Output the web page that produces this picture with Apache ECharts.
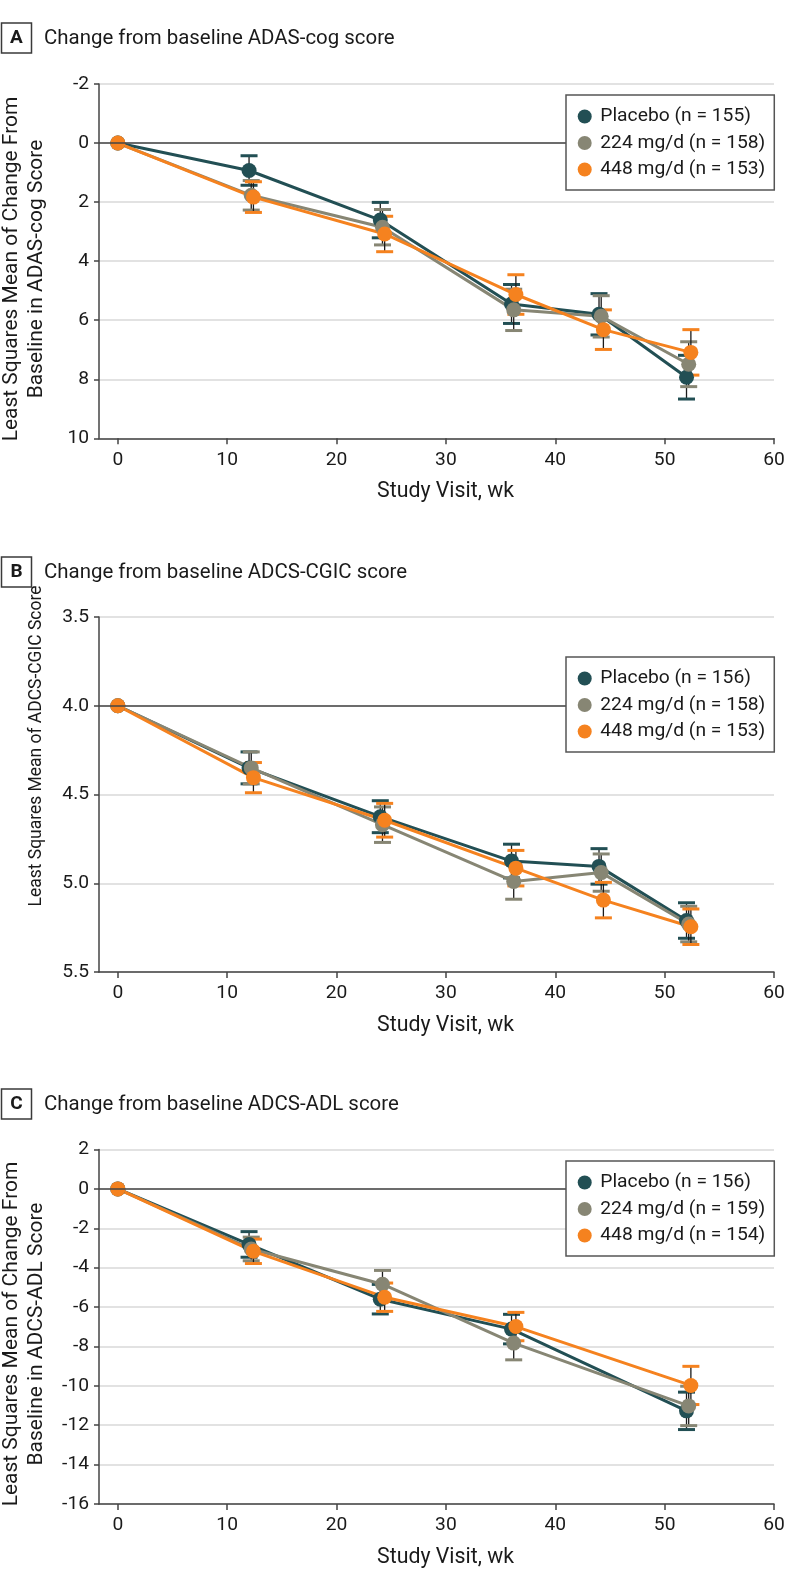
<!DOCTYPE html>
<html>
<head>
<meta charset="utf-8">
<script src="https://cdn.jsdelivr.net/npm/echarts@6/dist/echarts.min.js"></script>
<style>
  html, body { margin: 0; padding: 0; background: #fff; }
  #chart { width: 794px; height: 1595px; }
</style>
</head>
<body>
<div id="chart"></div>
<script>
// ---------------- DATA ----------------
const weeksAB = [0, 12, 24, 36, 44, 52];
const weeksC = [0, 12, 24, 36, 52];
const xTickValues = [0, 10, 20, 30, 40, 50, 60];

const panelLetters = ['A', 'B', 'C'];
const panelTitles = [
  'Change from baseline ADAS-cog score',
  'Change from baseline ADCS-CGIC score',
  'Change from baseline ADCS-ADL score'
];
const yNameLinesA = ['Least Squares Mean of Change From', 'Baseline in ADAS-cog Score'];
const yNameLinesB = ['Least Squares Mean of ADCS-CGIC Score'];
const yNameLinesC = ['Least Squares Mean of Change From', 'Baseline in ADCS-ADL Score'];
const xAxisName = 'Study Visit, wk';

const namesA = ['Placebo (n = 155)', '224 mg/d (n = 158)', '448 mg/d (n = 153)'];
const namesB = ['Placebo (n = 156)', '224 mg/d (n = 158)', '448 mg/d (n = 153)'];
const namesC = ['Placebo (n = 156)', '224 mg/d (n = 159)', '448 mg/d (n = 154)'];

// Panel A: ADAS-cog
const placeboA = [0, 0.93, 2.61, 5.45, 5.80, 7.93];
const placeboAErr = [0, 0.50, 0.60, 0.66, 0.70, 0.74];
const dose224A = [0, 1.77, 2.85, 5.65, 5.87, 7.49];
const dose224AErr = [0, 0.50, 0.60, 0.70, 0.70, 0.76];
const dose448A = [0, 1.83, 3.08, 5.13, 6.32, 7.09];
const dose448AErr = [0, 0.52, 0.60, 0.67, 0.67, 0.77];

// Panel B: ADCS-CGIC
const placeboB = [4.0, 4.35, 4.625, 4.875, 4.905, 5.21];
const placeboBErr = [0, 0.09, 0.09, 0.095, 0.10, 0.10];
const dose224B = [4.0, 4.35, 4.67, 4.99, 4.94, 5.23];
const dose224BErr = [0, 0.09, 0.10, 0.10, 0.105, 0.10];
const dose448B = [4.0, 4.405, 4.645, 4.915, 5.095, 5.245];
const dose448BErr = [0, 0.085, 0.095, 0.10, 0.10, 0.10];

// Panel C: ADCS-ADL
const placeboC = [0, -2.82, -5.60, -7.12, -11.27];
const placeboCErr = [0, 0.65, 0.75, 0.75, 0.95];
const dose224C = [0, -3.05, -4.84, -7.83, -11.02];
const dose224CErr = [0, 0.60, 0.70, 0.85, 1.00];
const dose448C = [0, -3.17, -5.50, -6.99, -9.98];
const dose448CErr = [0, 0.62, 0.72, 0.72, 0.97];

// ---------------- STYLE / LAYOUT ----------------
const FONT = 'Roboto, "Noto Sans", sans-serif';
const TEXT = '#1a1a1a';
const AXIS = '#444';
const GRIDC = '#d9d9d9';
const COLORS = ['#224f54', '#878674', '#f5821f'];
const DODGE = [0, 0.2, 0.4];
const GRID_LEFT = 99, GRID_W = 675;
const GRID_TOPS = [84, 617, 1149.5];
const GRID_H = [354.3, 355, 354.5];
const BOX_TOPS = [23, 557, 1089];
const LEGEND_TOPS = [95, 657, 1161];
const YNAME_CENTERS = [269, 746, 1334];

// font sizes fitted to the reference text widths
const measureCtx = document.createElement('canvas').getContext('2d');
function fitSize(text, target, weight) {
  measureCtx.font = (weight || 'normal') + ' 100px ' + FONT;
  return 100 * target / measureCtx.measureText(text).width;
}
const TITLE_SIZE = fitSize(panelTitles[0], 351);
const XNAME_SIZE = fitSize(xAxisName, 137);
const LEGEND_SIZE = fitSize('224 mg/d (n = 159)', 165);
const TICK_SIZE = (fitSize('3.5', 26.6) + fitSize('10', 21.7)) / 2;
const YNAME_SIZE_2 = fitSize(yNameLinesA[0], 345);
const YNAME_SIZE_1 = fitSize(yNameLinesB[0], 321);

const panels = [
  { weeks: weeksAB, means: [placeboA, dose224A, dose448A], errs: [placeboAErr, dose224AErr, dose448AErr],
    names: namesA, yName: yNameLinesA, ref: 0,
    yAxis: { inverse: true, min: -2, max: 10, interval: 2 } },
  { weeks: weeksAB, means: [placeboB, dose224B, dose448B], errs: [placeboBErr, dose224BErr, dose448BErr],
    names: namesB, yName: yNameLinesB, ref: 4.0,
    yAxis: { inverse: true, min: 3.5, max: 5.5, interval: 0.5, fmt: v => v.toFixed(1) } },
  { weeks: weeksC, means: [placeboC, dose224C, dose448C], errs: [placeboCErr, dose224CErr, dose448CErr],
    names: namesC, yName: yNameLinesC, ref: 0,
    yAxis: { inverse: false, min: -16, max: 2, interval: 2 } }
];

function errorBarRender(color) {
  return function (params, api) {
    const x = api.value(0), lo = api.value(1), hi = api.value(2);
    if (lo === hi) return null;
    const p1 = api.coord([x, lo]);
    const p2 = api.coord([x, hi]);
    const hw = 8.5;
    return {
      type: 'group',
      children: [
        { type: 'line', shape: { x1: p1[0], y1: p1[1], x2: p2[0], y2: p2[1] },
          style: { stroke: '#1a1a1a', lineWidth: 1.3 } },
        { type: 'line', shape: { x1: p1[0] - hw, y1: p1[1], x2: p1[0] + hw, y2: p1[1] },
          style: { stroke: color, lineWidth: 3 } },
        { type: 'line', shape: { x1: p2[0] - hw, y1: p2[1], x2: p2[0] + hw, y2: p2[1] },
          style: { stroke: color, lineWidth: 3 } }
      ]
    };
  };
}

const grid = [], xAxis = [], yAxis = [], series = [], legend = [], graphic = [];

panels.forEach((p, i) => {
  grid.push({ left: GRID_LEFT, top: GRID_TOPS[i], width: GRID_W, height: GRID_H[i] });
  xAxis.push({
    type: 'value', gridIndex: i, min: -1.72, max: 60,
    axisLine: { show: true, onZero: false, lineStyle: { color: AXIS, width: 1.5 } },
    axisTick: { show: true, length: 6, customValues: xTickValues, lineStyle: { color: AXIS, width: 1.5 } },
    axisLabel: { customValues: xTickValues, margin: 12, fontSize: TICK_SIZE, fontFamily: FONT, color: TEXT },
    splitLine: { show: false },
    name: xAxisName, nameLocation: 'middle', nameGap: 43,
    nameTextStyle: { fontSize: XNAME_SIZE, fontFamily: FONT, color: TEXT, padding: [0, 0, 0, 18] }
  });
  yAxis.push({
    type: 'value', gridIndex: i, inverse: p.yAxis.inverse,
    min: p.yAxis.min, max: p.yAxis.max, interval: p.yAxis.interval,
    axisLine: { show: true, onZero: false, lineStyle: { color: AXIS, width: 1.5 } },
    axisTick: { show: true, length: 5, lineStyle: { color: AXIS, width: 1.5 } },
    axisLabel: { margin: 10, fontSize: TICK_SIZE, fontFamily: FONT, color: TEXT,
                 formatter: p.yAxis.fmt || (v => String(v)) },
    splitLine: { show: true, lineStyle: { color: GRIDC, width: 1.5 } }
  });

  // error bars first (drawn beneath lines)
  p.means.forEach((m, k) => {
    series.push({
      type: 'custom', name: 'err' + i + '_' + k, xAxisIndex: i, yAxisIndex: i,
      renderItem: errorBarRender(COLORS[k]), silent: true,
      encode: { x: 0, y: [1, 2] },
      data: p.weeks.map((w, j) => [w === 0 ? 0 : w + DODGE[k], m[j] - p.errs[k][j], m[j] + p.errs[k][j]])
    });
  });
  p.means.forEach((m, k) => {
    const s = {
      type: 'line', name: p.names[k], xAxisIndex: i, yAxisIndex: i,
      symbol: 'circle', symbolSize: 15, showSymbol: true, silent: true,
      lineStyle: { color: COLORS[k], width: 3 },
      itemStyle: { color: COLORS[k] },
      data: p.weeks.map((w, j) => [w === 0 ? 0 : w + DODGE[k], m[j]])
    };
    if (k === 0) {
      s.markLine = { silent: true, symbol: 'none', label: { show: false },
        lineStyle: { color: '#444', width: 1.5, type: 'solid' },
        data: [{ yAxis: p.ref }] };
    }
    series.push(s);
  });

  legend.push({
    z: 20, zlevel: 0,
    left: 566, top: LEGEND_TOPS[i], orient: 'vertical',
    backgroundColor: '#fff', borderColor: '#555', borderWidth: 1.5, borderRadius: 0,
    padding: [11.5, 9, 10.5, 11.7], itemWidth: 14, itemHeight: 14, itemGap: 6.5,
    icon: 'circle', selectedMode: false,
    textStyle: { fontSize: LEGEND_SIZE, fontFamily: FONT, color: TEXT, lineHeight: 20, padding: [0, 0, 0, 3.6] },
    data: p.names.map(n => ({ name: n, icon: 'circle' }))
  });

  // title box + title
  graphic.push({ type: 'rect', shape: { x: 1.5, y: BOX_TOPS[i], width: 30, height: 30 },
    style: { fill: '#fff', stroke: '#3a3a3a', lineWidth: 1.5 } });
  graphic.push({ type: 'text', x: 16.5, y: BOX_TOPS[i] + 15.5,
    style: { text: panelLetters[i], fontSize: 19, fontWeight: 'bold', fontFamily: FONT, fill: TEXT,
             align: 'center', verticalAlign: 'middle' } });
  graphic.push({ type: 'text', x: 44, y: BOX_TOPS[i] + 15.5,
    style: { text: panelTitles[i], fontSize: TITLE_SIZE, fontFamily: FONT, fill: TEXT,
             align: 'left', verticalAlign: 'middle' } });
  // y axis name (rotated)
  const lines = p.yName;
  const xs = lines.length === 2 ? [12, 36.7] : [36.7];
  lines.forEach((t, li) => {
    graphic.push({ type: 'text', x: xs[li], y: YNAME_CENTERS[i], rotation: Math.PI / 2,
      style: { text: t, fontSize: lines.length === 2 ? YNAME_SIZE_2 : YNAME_SIZE_1, fontFamily: FONT, fill: TEXT,
               align: 'center', verticalAlign: 'middle' } });
  });
});

const chart = echarts.init(document.getElementById('chart'), null, { renderer: 'canvas' });
chart.setOption({
  animation: false,
  backgroundColor: '#fff',
  grid, xAxis, yAxis, series, legend, graphic
});
</script>
</body>
</html>
